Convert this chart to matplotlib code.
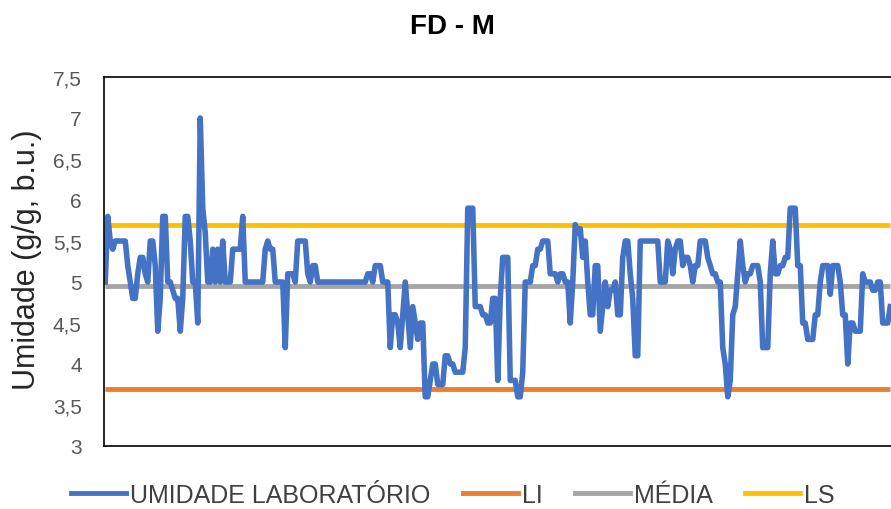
"""
FD - M control chart (umidade laboratorio)
"""
from matplotlib.pyplot import figure, rcParams
from matplotlib.lines import Line2D

umidade = [
    5.0, 5.8, 5.5, 5.4, 5.5, 5.5, 5.5, 5.5, 5.5, 5.2,
    5.0, 4.8, 4.8, 5.1, 5.3, 5.3, 5.1, 5.0, 5.5, 5.5,
    5.2, 4.4, 4.8, 5.8, 5.8, 5.0, 5.0, 4.9, 4.8, 4.8,
    4.4, 4.8, 5.8, 5.8, 5.5, 5.0, 5.0, 4.5, 7.0, 5.9,
    5.6, 5.0, 5.0, 5.4, 5.0, 5.4, 5.0, 5.5, 5.0, 5.0,
    5.0, 5.4, 5.4, 5.4, 5.4, 5.8, 5.0, 5.0, 5.0, 5.0,
    5.0, 5.0, 5.0, 5.0, 5.4, 5.5, 5.4, 5.4, 5.0, 5.0,
    5.0, 5.0, 4.2, 5.1, 5.1, 5.1, 5.0, 5.5, 5.5, 5.5,
    5.5, 5.1, 5.0, 5.2, 5.2, 5.0, 5.0, 5.0, 5.0, 5.0,
    5.0, 5.0, 5.0, 5.0, 5.0, 5.0, 5.0, 5.0, 5.0, 5.0,
    5.0, 5.0, 5.0, 5.0, 5.0, 5.1, 5.1, 5.0, 5.2, 5.2,
    5.2, 5.0, 5.0, 5.0, 4.2, 4.6, 4.6, 4.5, 4.2, 4.6,
    5.0, 4.6, 4.2, 4.7, 4.5, 4.3, 4.5, 4.5, 3.6, 3.6,
    3.8, 4.0, 4.0, 3.75, 3.75, 3.75, 4.1, 4.1, 4.0, 4.0,
    3.9, 3.9, 3.9, 3.9, 4.2, 5.9, 5.9, 5.9, 4.7, 4.7,
    4.7, 4.6, 4.6, 4.5, 4.5, 4.8, 4.8, 3.8, 4.8, 5.3,
    5.3, 5.3, 3.8, 3.8, 3.8, 3.6, 3.6, 3.9, 5.0, 5.0,
    5.0, 5.2, 5.2, 5.4, 5.4, 5.5, 5.5, 5.5, 5.1, 5.1,
    5.1, 5.0, 5.1, 5.1, 5.0, 5.0, 4.5, 5.0, 5.7, 5.6,
    5.65, 5.3, 5.5, 5.0, 4.6, 4.6, 5.2, 5.2, 4.4, 4.7,
    5.0, 4.7, 4.9, 4.9, 5.0, 4.6, 4.6, 5.3, 5.5, 5.5,
    5.1, 4.8, 4.1, 4.1, 5.5, 5.5, 5.5, 5.5, 5.5, 5.5,
    5.5, 5.5, 5.0, 5.0, 5.0, 5.5, 5.4, 5.1, 5.4, 5.5,
    5.5, 5.2, 5.3, 5.3, 5.2, 5.0, 5.2, 5.2, 5.5, 5.5,
    5.5, 5.3, 5.2, 5.1, 5.1, 5.0, 5.0, 4.2, 4.0, 3.6,
    3.8, 4.6, 4.7, 5.1, 5.5, 5.2, 5.0, 5.1, 5.1, 5.2,
    5.2, 5.2, 5.0, 4.2, 4.2, 4.2, 5.1, 5.5, 5.1, 5.1,
    5.2, 5.2, 5.3, 5.3, 5.9, 5.9, 5.9, 5.2, 5.2, 4.5,
    4.5, 4.3, 4.3, 4.3, 4.6, 4.6, 5.0, 5.2, 5.2, 5.2,
    4.85, 5.2, 5.2, 5.2, 5.0, 4.6, 4.6, 4.0, 4.5, 4.5,
    4.4, 4.4, 4.4, 5.1, 5.0, 5.0, 5.0, 4.9, 4.9, 5.0,
    5.0, 4.5, 4.5, 4.5, 4.7,
]
li = 3.7
media = 4.95
ls = 5.7

yticks = [3, 3.5, 4, 4.5, 5, 5.5, 6, 6.5, 7, 7.5]
ytick_labels = ["3", "3,5", "4", "4,5", "5", "5,5", "6", "6,5", "7", "7,5"]

BLUE = "#4472C4"
ORANGE = "#ED7D31"
GRAY = "#A5A5A5"
YELLOW = "#FFC000"


def main():
    """
    main wrapper function
    """
    rcParams["font.family"] = ["Liberation Sans", "DejaVu Sans"]

    xs = list(range(len(umidade)))

    fig = figure(figsize=(8.91, 5.1), dpi=100)
    axes = fig.add_axes([104 / 891, 63 / 510, 787 / 891, 369 / 510])

    axes.plot(xs, [li] * len(xs), color=ORANGE, lw=3.5, solid_capstyle="butt")
    axes.plot(xs, [media] * len(xs), color=GRAY, lw=3.5, solid_capstyle="butt")
    axes.plot(xs, [ls] * len(xs), color=YELLOW, lw=3.5, solid_capstyle="butt")
    axes.plot(xs, umidade, color=BLUE, lw=4.0, solid_joinstyle="round")

    axes.set_xlim(-0.5, 314.3)
    axes.set_ylim(3, 7.5)
    axes.set_xticks([])
    axes.set_yticks(yticks)
    axes.set_yticklabels(ytick_labels)
    axes.tick_params(axis="y", length=0, pad=16, labelsize=15, labelcolor="#595959")

    for side in ("left", "bottom", "top"):
        axes.spines[side].set_color("#000000")
        axes.spines[side].set_linewidth(1.2)
    axes.spines["right"].set_visible(False)

    fig.text(27 / 891, 1 - 260 / 510, "Umidade (g/g, b.u.)", rotation=90,
             ha="center", va="center", fontsize=22, color="#262626")
    fig.text(452 / 891, 1 - 27 / 510, "FD - M", ha="center", va="center",
             fontsize=20, fontweight="bold", color="#000000")

    handles = [
        Line2D([], [], color=BLUE, lw=3.5),
        Line2D([], [], color=ORANGE, lw=3.5),
        Line2D([], [], color=GRAY, lw=3.5),
        Line2D([], [], color=YELLOW, lw=3.5),
    ]
    labels = ["UMIDADE LABORATÓRIO", "LI", "MÉDIA", "LS"]
    fig.legend(handles, labels, loc="center", bbox_to_anchor=(453 / 891, 1 - 496 / 510),
               ncol=4, frameon=False, fontsize=18, handlelength=2.2,
               handletextpad=0.15, columnspacing=1.3, labelcolor="#404040",
               borderpad=0, borderaxespad=0)

    fig.savefig("out.png", dpi=100)


if __name__ == "__main__":
    main()
